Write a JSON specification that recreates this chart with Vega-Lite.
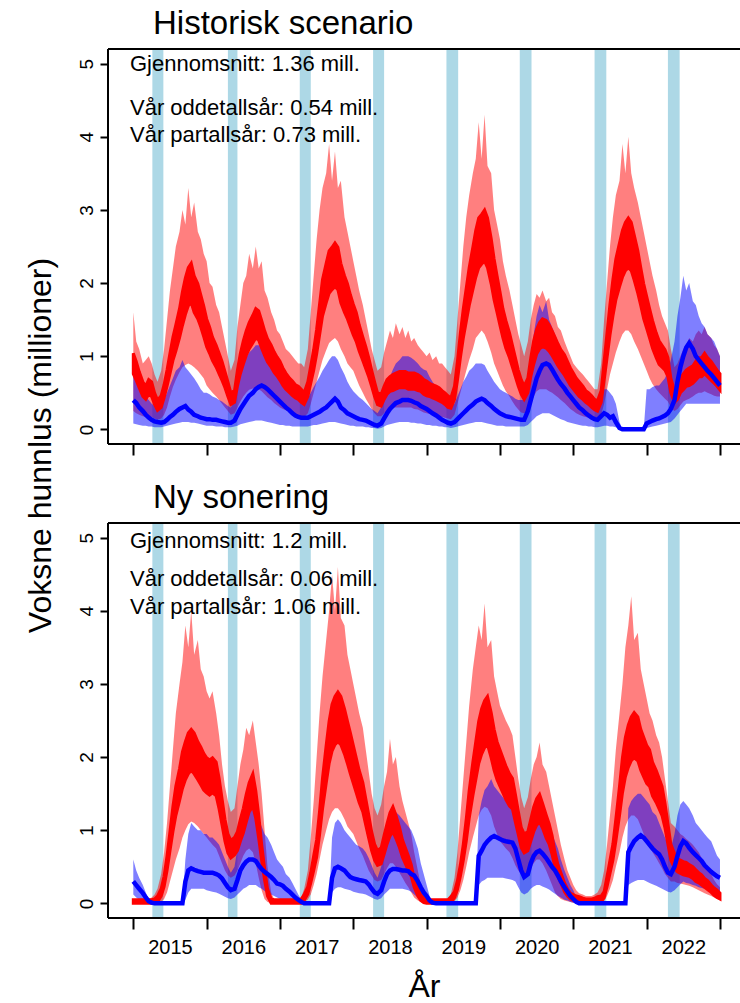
{
"$schema": "https://vega.github.io/schema/vega-lite/v6.json",
"padding": {"left": 24, "top": 8, "right": 0, "bottom": 0},
"bounds": "flush",
"spacing": 79,
"config": {"font": "Liberation Sans", "view": {"stroke": null}, "axis": {"grid": false, "domain": false, "tickColor": "black", "tickWidth": 2, "labelColor": "black", "titleColor": "black", "titleFontWeight": "normal", "labelOverlap": false, "labelFlush": false}},
"vconcat": [
{
"width": 632, "height": 395,
"title": {"text": "Historisk scenario", "anchor": "start", "frame": "group", "dx": 45, "dy": 33, "offset": 14, "fontSize": 33, "fontWeight": "normal", "baseline": "alphabetic", "color": "black"},
"data": {"values": "t,rl,r1,r2,rh,bl,bm,bh\n2015.00,0.25,0.76,1.04,1.60,0.08,0.40,0.75\n2015.04,0.22,0.67,0.93,1.20,0.07,0.36,0.70\n2015.08,0.20,0.57,0.79,1.10,0.06,0.30,0.62\n2015.13,0.18,0.45,0.65,0.90,0.05,0.25,0.55\n2015.17,0.17,0.41,0.59,0.95,0.05,0.20,0.45\n2015.21,0.18,0.48,0.68,1.00,0.04,0.16,0.40\n2015.25,0.17,0.45,0.65,0.90,0.04,0.13,0.35\n2015.29,0.15,0.34,0.50,0.75,0.03,0.11,0.32\n2015.33,0.13,0.26,0.40,0.65,0.03,0.10,0.30\n2015.38,0.15,0.30,0.46,0.80,0.03,0.09,0.32\n2015.42,0.20,0.43,0.61,1.10,0.04,0.10,0.40\n2015.46,0.30,0.59,0.81,1.50,0.05,0.13,0.50\n2015.50,0.45,0.76,1.04,1.90,0.06,0.17,0.60\n2015.54,0.58,0.94,1.26,2.20,0.07,0.20,0.70\n2015.58,0.68,1.07,1.43,2.50,0.08,0.24,0.80\n2015.63,0.78,1.25,1.65,2.70,0.09,0.28,0.85\n2015.67,0.85,1.42,1.88,3.00,0.10,0.30,0.95\n2015.71,0.88,1.57,2.07,2.80,0.10,0.32,0.85\n2015.75,0.90,1.69,2.21,3.30,0.10,0.27,0.80\n2015.79,0.88,1.73,2.27,2.90,0.09,0.24,0.75\n2015.83,0.85,1.60,2.10,3.10,0.09,0.20,0.70\n2015.88,0.80,1.51,1.99,2.70,0.08,0.18,0.62\n2015.92,0.75,1.40,1.84,2.60,0.07,0.16,0.55\n2015.96,0.70,1.27,1.69,2.40,0.06,0.15,0.50\n2016.00,0.60,1.13,1.51,2.30,0.05,0.14,0.50\n2016.04,0.55,1.04,1.40,2.00,0.05,0.14,0.48\n2016.08,0.50,0.94,1.26,1.95,0.05,0.13,0.45\n2016.13,0.45,0.85,1.15,1.70,0.04,0.13,0.43\n2016.17,0.40,0.76,1.04,1.60,0.04,0.12,0.40\n2016.21,0.35,0.67,0.93,1.40,0.04,0.11,0.38\n2016.25,0.30,0.57,0.79,1.20,0.03,0.10,0.35\n2016.29,0.25,0.45,0.65,1.00,0.03,0.09,0.32\n2016.33,0.20,0.34,0.50,0.80,0.03,0.09,0.30\n2016.38,0.22,0.37,0.53,0.95,0.04,0.12,0.40\n2016.42,0.30,0.59,0.81,1.40,0.05,0.20,0.60\n2016.46,0.38,0.76,1.04,1.70,0.07,0.28,0.75\n2016.50,0.45,0.89,1.21,2.00,0.08,0.34,0.88\n2016.54,0.50,1.01,1.35,2.10,0.09,0.40,0.98\n2016.58,0.54,1.10,1.46,2.40,0.10,0.46,1.05\n2016.63,0.56,1.18,1.56,2.20,0.11,0.50,1.10\n2016.67,0.56,1.25,1.65,2.50,0.12,0.55,1.15\n2016.71,0.55,1.22,1.62,2.20,0.12,0.58,1.15\n2016.75,0.52,1.11,1.49,2.30,0.12,0.60,1.12\n2016.79,0.48,1.01,1.35,1.90,0.11,0.58,1.05\n2016.83,0.44,0.92,1.24,1.80,0.10,0.55,1.00\n2016.88,0.40,0.85,1.15,1.60,0.09,0.50,0.92\n2016.92,0.36,0.78,1.06,1.50,0.08,0.46,0.85\n2016.96,0.33,0.73,0.99,1.35,0.07,0.42,0.78\n2017.00,0.30,0.67,0.93,1.30,0.06,0.38,0.70\n2017.04,0.28,0.60,0.84,1.20,0.06,0.34,0.65\n2017.08,0.26,0.55,0.77,1.10,0.05,0.30,0.60\n2017.13,0.24,0.50,0.70,1.05,0.05,0.26,0.55\n2017.17,0.22,0.46,0.66,1.00,0.04,0.22,0.50\n2017.21,0.20,0.43,0.61,0.95,0.04,0.19,0.46\n2017.25,0.18,0.41,0.59,0.90,0.04,0.17,0.42\n2017.29,0.17,0.37,0.55,0.90,0.04,0.16,0.40\n2017.33,0.17,0.34,0.50,0.85,0.04,0.16,0.38\n2017.38,0.22,0.45,0.65,1.10,0.04,0.16,0.42\n2017.42,0.35,0.63,0.87,1.60,0.05,0.18,0.50\n2017.46,0.50,0.81,1.09,2.10,0.06,0.20,0.58\n2017.50,0.65,1.03,1.37,2.60,0.06,0.22,0.65\n2017.54,0.80,1.29,1.71,3.00,0.07,0.24,0.72\n2017.58,0.95,1.55,2.05,3.30,0.08,0.27,0.80\n2017.63,1.08,1.73,2.27,3.50,0.09,0.30,0.88\n2017.67,1.18,1.86,2.44,3.90,0.10,0.34,0.95\n2017.71,1.22,1.91,2.49,3.40,0.10,0.38,1.00\n2017.75,1.25,1.95,2.55,3.80,0.10,0.42,1.00\n2017.79,1.20,1.91,2.49,3.30,0.09,0.38,0.95\n2017.83,1.10,1.73,2.27,3.40,0.08,0.30,0.85\n2017.88,1.00,1.60,2.10,2.90,0.07,0.26,0.75\n2017.92,0.90,1.51,1.99,2.70,0.06,0.22,0.65\n2017.96,0.85,1.40,1.84,2.50,0.05,0.20,0.58\n2018.00,0.80,1.29,1.71,2.30,0.05,0.18,0.52\n2018.04,0.70,1.20,1.60,2.10,0.04,0.16,0.48\n2018.08,0.60,1.07,1.43,1.90,0.04,0.14,0.44\n2018.13,0.50,0.94,1.26,1.70,0.04,0.13,0.40\n2018.17,0.42,0.83,1.13,1.50,0.03,0.12,0.36\n2018.21,0.35,0.72,0.98,1.30,0.03,0.10,0.32\n2018.25,0.28,0.59,0.81,1.10,0.02,0.08,0.28\n2018.29,0.22,0.45,0.65,0.95,0.02,0.06,0.25\n2018.33,0.18,0.34,0.50,0.80,0.01,0.05,0.22\n2018.38,0.18,0.32,0.48,0.85,0.02,0.08,0.30\n2018.42,0.22,0.41,0.59,1.05,0.04,0.15,0.45\n2018.46,0.25,0.48,0.68,1.20,0.06,0.22,0.60\n2018.50,0.28,0.52,0.72,1.35,0.07,0.28,0.72\n2018.54,0.30,0.53,0.75,1.25,0.08,0.32,0.82\n2018.58,0.30,0.55,0.77,1.45,0.09,0.36,0.90\n2018.63,0.30,0.57,0.79,1.30,0.10,0.38,0.95\n2018.67,0.30,0.57,0.79,1.40,0.10,0.40,1.00\n2018.71,0.30,0.57,0.79,1.25,0.10,0.40,1.00\n2018.75,0.30,0.55,0.77,1.35,0.10,0.40,1.00\n2018.79,0.30,0.55,0.77,1.20,0.09,0.39,0.98\n2018.83,0.28,0.55,0.77,1.25,0.09,0.37,0.95\n2018.88,0.27,0.53,0.75,1.15,0.08,0.35,0.90\n2018.92,0.25,0.52,0.72,1.10,0.08,0.32,0.85\n2018.96,0.23,0.48,0.68,1.05,0.07,0.30,0.82\n2019.00,0.22,0.46,0.66,1.00,0.06,0.28,0.80\n2019.04,0.21,0.45,0.63,1.05,0.06,0.25,0.72\n2019.08,0.20,0.43,0.61,0.95,0.05,0.22,0.65\n2019.13,0.19,0.41,0.59,1.00,0.05,0.19,0.58\n2019.17,0.18,0.39,0.57,0.90,0.04,0.16,0.50\n2019.21,0.17,0.37,0.53,0.90,0.04,0.13,0.45\n2019.25,0.16,0.34,0.50,0.85,0.03,0.11,0.40\n2019.29,0.15,0.30,0.46,0.80,0.03,0.09,0.35\n2019.33,0.14,0.29,0.43,0.75,0.02,0.08,0.30\n2019.38,0.20,0.41,0.59,1.00,0.03,0.10,0.35\n2019.42,0.35,0.67,0.93,1.50,0.04,0.14,0.45\n2019.46,0.50,0.98,1.32,2.00,0.05,0.18,0.55\n2019.50,0.65,1.25,1.65,2.50,0.06,0.22,0.65\n2019.54,0.80,1.47,1.93,2.90,0.07,0.26,0.72\n2019.58,0.95,1.69,2.21,3.20,0.08,0.30,0.80\n2019.63,1.10,1.91,2.49,3.50,0.09,0.34,0.85\n2019.67,1.25,2.08,2.72,3.70,0.10,0.38,0.90\n2019.71,1.30,2.21,2.89,4.20,0.10,0.40,0.90\n2019.75,1.35,2.26,2.94,3.70,0.10,0.42,0.90\n2019.79,1.30,2.30,3.00,4.30,0.09,0.40,0.88\n2019.83,1.20,2.21,2.89,3.60,0.08,0.36,0.80\n2019.88,1.05,1.99,2.61,3.50,0.07,0.32,0.72\n2019.92,0.90,1.77,2.33,3.00,0.06,0.28,0.65\n2019.96,0.80,1.60,2.10,2.80,0.05,0.25,0.60\n2020.00,0.70,1.42,1.88,2.60,0.05,0.22,0.55\n2020.04,0.60,1.25,1.65,2.30,0.05,0.20,0.52\n2020.08,0.52,1.11,1.49,2.10,0.04,0.18,0.50\n2020.13,0.45,0.98,1.32,1.90,0.04,0.17,0.47\n2020.17,0.38,0.85,1.15,1.70,0.04,0.16,0.45\n2020.21,0.32,0.72,0.98,1.50,0.04,0.15,0.42\n2020.25,0.27,0.59,0.81,1.30,0.04,0.14,0.40\n2020.29,0.23,0.48,0.68,1.15,0.04,0.13,0.40\n2020.33,0.22,0.41,0.59,1.00,0.04,0.13,0.40\n2020.38,0.25,0.50,0.70,1.20,0.06,0.25,0.70\n2020.42,0.35,0.72,0.98,1.50,0.10,0.40,1.00\n2020.46,0.45,0.89,1.21,1.70,0.14,0.55,1.30\n2020.50,0.52,1.03,1.37,1.85,0.18,0.70,1.55\n2020.54,0.55,1.10,1.46,1.80,0.20,0.80,1.70\n2020.58,0.55,1.13,1.51,1.90,0.22,0.88,1.60\n2020.63,0.55,1.11,1.49,1.75,0.22,0.90,1.75\n2020.67,0.52,1.07,1.43,1.80,0.22,0.88,1.50\n2020.71,0.50,1.01,1.35,1.60,0.20,0.82,1.40\n2020.75,0.47,0.94,1.26,1.55,0.18,0.75,1.30\n2020.79,0.44,0.87,1.17,1.40,0.16,0.68,1.20\n2020.83,0.40,0.81,1.09,1.35,0.14,0.62,1.10\n2020.88,0.36,0.74,1.02,1.20,0.12,0.56,1.00\n2020.92,0.32,0.67,0.93,1.10,0.10,0.50,0.90\n2020.96,0.28,0.60,0.84,1.00,0.09,0.45,0.80\n2021.00,0.25,0.55,0.77,0.90,0.08,0.40,0.70\n2021.04,0.22,0.50,0.70,0.85,0.07,0.35,0.65\n2021.08,0.20,0.45,0.65,0.80,0.06,0.30,0.60\n2021.13,0.18,0.41,0.59,0.75,0.05,0.26,0.55\n2021.17,0.17,0.37,0.53,0.70,0.05,0.22,0.50\n2021.21,0.16,0.34,0.50,0.65,0.04,0.19,0.45\n2021.25,0.15,0.30,0.46,0.60,0.04,0.16,0.42\n2021.29,0.14,0.27,0.41,0.55,0.03,0.14,0.40\n2021.33,0.13,0.25,0.39,0.55,0.03,0.13,0.40\n2021.38,0.20,0.37,0.53,0.90,0.04,0.18,0.45\n2021.42,0.35,0.67,0.93,1.50,0.05,0.22,0.55\n2021.46,0.55,0.98,1.32,2.00,0.05,0.20,0.55\n2021.50,0.75,1.29,1.71,2.50,0.04,0.16,0.50\n2021.54,0.90,1.55,2.05,2.90,0.04,0.18,0.45\n2021.58,1.05,1.77,2.33,3.20,0.03,0.10,0.35\n2021.63,1.20,1.95,2.55,3.40,0.01,0.02,0.10\n2021.67,1.30,2.08,2.72,3.90,0.00,0.00,0.00\n2021.71,1.35,2.17,2.83,3.50,0.00,0.00,0.00\n2021.75,1.35,2.21,2.89,4.00,0.00,0.00,0.00\n2021.79,1.30,2.17,2.83,3.50,0.00,0.00,0.00\n2021.83,1.20,2.04,2.66,3.30,0.00,0.00,0.00\n2021.88,1.10,1.86,2.44,3.10,0.00,0.00,0.00\n2021.92,1.00,1.69,2.21,2.90,0.00,0.00,0.00\n2021.96,0.90,1.51,1.99,2.70,0.00,0.00,0.00\n2022.00,0.80,1.38,1.82,2.50,0.02,0.08,0.55\n2022.04,0.70,1.25,1.65,2.30,0.03,0.10,0.55\n2022.08,0.62,1.11,1.49,2.10,0.04,0.12,0.58\n2022.13,0.55,0.98,1.32,1.90,0.05,0.14,0.60\n2022.17,0.50,0.89,1.21,1.70,0.06,0.15,0.60\n2022.21,0.46,0.85,1.15,1.55,0.07,0.17,0.65\n2022.25,0.42,0.81,1.09,1.45,0.08,0.19,0.70\n2022.29,0.38,0.72,0.98,1.35,0.09,0.22,0.80\n2022.33,0.30,0.50,0.70,1.10,0.10,0.28,0.95\n2022.38,0.25,0.37,0.53,0.85,0.15,0.40,1.20\n2022.42,0.28,0.41,0.59,0.90,0.20,0.65,1.55\n2022.46,0.33,0.50,0.70,1.00,0.25,0.85,1.80\n2022.50,0.38,0.54,0.76,1.10,0.30,1.00,2.10\n2022.54,0.40,0.59,0.81,1.15,0.35,1.12,1.90\n2022.58,0.42,0.60,0.84,1.25,0.35,1.18,2.00\n2022.63,0.45,0.63,0.87,1.20,0.35,1.10,1.75\n2022.67,0.48,0.67,0.93,1.30,0.35,1.00,1.70\n2022.71,0.50,0.72,0.98,1.35,0.35,0.95,1.55\n2022.75,0.50,0.72,0.98,1.30,0.35,0.90,1.45\n2022.79,0.52,0.76,1.04,1.40,0.35,0.85,1.40\n2022.83,0.50,0.72,0.98,1.30,0.35,0.80,1.30\n2022.88,0.48,0.67,0.93,1.25,0.35,0.75,1.25\n2022.92,0.46,0.63,0.87,1.15,0.35,0.70,1.20\n2022.96,0.45,0.59,0.81,1.10,0.35,0.65,1.10\n2023.00,0.45,0.54,0.76,1.00,0.35,0.60,1.00", "format": {"type": "csv", "parse": {"t": "number", "rl": "number", "r1": "number", "r2": "number", "rh": "number", "bl": "number", "bm": "number", "bh": "number"}}},
"encoding": {"x": {"field": "t", "type": "quantitative", "scale": {"domain": [2014.655, 2023.273], "nice": false, "zero": false},
  "axis": {"values": [2015, 2015.5, 2016, 2016.5, 2017, 2017.5, 2018, 2018.5, 2019, 2019.5, 2020, 2020.5, 2021, 2021.5, 2022, 2022.5, 2023], "labels": false, "title": null, "domain": false, "tickSize": 11, "tickOpacity": {"condition": {"test": "datum.value % 1 == 0.5", "value": 0}, "value": 1}}}},
"layer": [
  {"data": {"values": [{"t": 2015.26, "t2": 2015.41}, {"t": 2016.29, "t2": 2016.42}, {"t": 2017.27, "t2": 2017.42}, {"t": 2018.27, "t2": 2018.42}, {"t": 2019.27, "t2": 2019.43}, {"t": 2020.27, "t2": 2020.43}, {"t": 2021.29, "t2": 2021.45}, {"t": 2022.29, "t2": 2022.45}]},
   "mark": {"type": "rect", "color": "#ADD8E6"}, "encoding": {"x2": {"field": "t2"}}},
  {"mark": {"type": "area", "color": "#FF0000", "fillOpacity": 0.5}, "encoding": {"y": {"field": "rl", "type": "quantitative", "scale": {"domain": [-0.2, 5.2], "nice": false, "zero": false},
    "axis": {"values": [0, 1, 2, 3, 4, 5], "format": "d", "domain": false, "title": "Voksne hunnlus (millioner)", "titleFontSize": 32, "titleAngle": 270, "titleX": -58, "titleY": 396, "titleAlign": "center", "titleBaseline": "alphabetic", "labelAngle": 270, "labelAlign": "center", "labelBaseline": "bottom", "labelFontSize": 19, "labelPadding": 4, "tickSize": 8}}, "y2": {"field": "rh"}}},
  {"mark": {"type": "area", "color": "#0000FF", "fillOpacity": 0.5}, "encoding": {"y": {"field": "bl", "type": "quantitative"}, "y2": {"field": "bh"}}},
  {"mark": {"type": "area", "color": "#FF0000", "stroke": "#FF0000", "strokeWidth": 3}, "encoding": {"y": {"field": "r1", "type": "quantitative"}, "y2": {"field": "r2"}}},
  {"mark": {"type": "line", "color": "#0000FF", "strokeWidth": 4.5}, "encoding": {"y": {"field": "bm", "type": "quantitative"}}},
  {"data": {"values": [{"t": 2014.655, "t2": 2023.273, "yv": 5.2}, {"t": 2014.655, "t2": 2023.273, "yv": -0.2}]}, "mark": {"type": "rule", "color": "black", "strokeWidth": 2}, "encoding": {"x2": {"field": "t2"}, "y": {"field": "yv", "type": "quantitative"}}},
  {"data": {"values": [{"t": 2014.655, "ya": -0.2, "yb": 5.2}]}, "mark": {"type": "rule", "color": "black", "strokeWidth": 2}, "encoding": {"y": {"field": "ya", "type": "quantitative"}, "y2": {"field": "yb"}}},
  {"data": {"values": [{"t": 2014.955, "v": 5.0, "lab": "Gjennomsnitt: 1.36 mill."}, {"t": 2014.955, "v": 4.4, "lab": "Vår oddetallsår: 0.54 mill."}, {"t": 2014.955, "v": 4.03, "lab": "Vår partallsår: 0.73 mill."}]},
   "mark": {"type": "text", "align": "left", "baseline": "middle", "fontSize": 22, "color": "black"}, "encoding": {"y": {"field": "v", "type": "quantitative"}, "text": {"field": "lab"}}}
]
},
{
"width": 632, "height": 395,
"title": {"text": "Ny sonering", "anchor": "start", "frame": "group", "dx": 45, "dy": 33, "offset": 14, "fontSize": 33, "fontWeight": "normal", "baseline": "alphabetic", "color": "black"},
"data": {"values": "t,rl,r1,r2,rh,bl,bm,bh\n2015.00,0.00,0.00,0.05,0.05,0.12,0.30,0.60\n2015.04,0.00,0.00,0.05,0.05,0.08,0.25,0.45\n2015.08,0.00,0.00,0.05,0.05,0.05,0.20,0.35\n2015.13,0.00,0.00,0.05,0.05,0.03,0.14,0.25\n2015.17,0.00,0.00,0.05,0.05,0.01,0.08,0.15\n2015.21,0.00,0.00,0.05,0.06,0.00,0.03,0.06\n2015.25,0.00,0.00,0.05,0.08,0.00,0.01,0.02\n2015.29,0.00,0.00,0.06,0.12,0.00,0.00,0.00\n2015.33,0.00,0.02,0.10,0.20,0.00,0.00,0.00\n2015.38,0.02,0.10,0.20,0.40,0.00,0.00,0.00\n2015.42,0.06,0.23,0.37,0.70,0.00,0.00,0.00\n2015.46,0.15,0.45,0.65,1.10,0.00,0.00,0.00\n2015.50,0.30,0.72,0.98,1.60,0.00,0.00,0.00\n2015.54,0.45,0.98,1.32,2.10,0.00,0.00,0.00\n2015.58,0.60,1.20,1.60,2.60,0.00,0.00,0.00\n2015.63,0.75,1.40,1.84,3.00,0.00,0.00,0.00\n2015.67,0.90,1.57,2.07,3.30,0.00,0.00,0.00\n2015.71,1.00,1.69,2.21,3.80,0.05,0.30,0.60\n2015.75,1.08,1.77,2.33,3.50,0.15,0.45,0.95\n2015.79,1.12,1.82,2.38,4.00,0.20,0.48,1.10\n2015.83,1.10,1.77,2.33,3.40,0.20,0.46,1.05\n2015.88,1.05,1.69,2.21,3.60,0.20,0.44,1.00\n2015.92,1.00,1.62,2.14,3.20,0.20,0.43,1.00\n2015.96,0.95,1.55,2.05,3.10,0.20,0.42,0.95\n2016.00,0.90,1.51,1.99,2.90,0.18,0.42,0.95\n2016.04,0.85,1.48,1.96,2.80,0.17,0.42,0.90\n2016.08,0.80,1.51,1.99,2.90,0.16,0.42,0.90\n2016.13,0.75,1.47,1.93,2.60,0.15,0.40,0.85\n2016.17,0.65,1.29,1.71,2.30,0.13,0.38,0.80\n2016.21,0.55,1.07,1.43,1.90,0.11,0.34,0.70\n2016.25,0.45,0.85,1.15,1.60,0.09,0.28,0.60\n2016.29,0.38,0.69,0.95,1.40,0.07,0.22,0.50\n2016.33,0.35,0.62,0.86,1.25,0.06,0.18,0.42\n2016.38,0.38,0.66,0.90,1.30,0.08,0.20,0.50\n2016.42,0.45,0.72,0.98,1.60,0.12,0.32,0.75\n2016.46,0.55,0.85,1.15,1.90,0.16,0.45,1.00\n2016.50,0.65,0.96,1.30,2.10,0.20,0.52,1.15\n2016.54,0.72,1.11,1.49,2.40,0.22,0.57,1.25\n2016.58,0.75,1.25,1.65,2.30,0.25,0.60,1.35\n2016.63,0.70,1.33,1.77,2.50,0.25,0.60,1.30\n2016.67,0.55,1.16,1.54,2.20,0.25,0.58,1.25\n2016.71,0.35,0.89,1.21,1.90,0.22,0.52,1.15\n2016.75,0.18,0.59,0.81,1.50,0.20,0.47,1.05\n2016.79,0.06,0.32,0.48,1.00,0.17,0.43,0.95\n2016.83,0.02,0.10,0.20,0.50,0.15,0.40,0.90\n2016.88,0.00,0.00,0.06,0.15,0.12,0.36,0.80\n2016.92,0.00,0.00,0.05,0.06,0.10,0.32,0.70\n2016.96,0.00,0.00,0.05,0.05,0.08,0.27,0.60\n2017.00,0.00,0.00,0.05,0.05,0.06,0.26,0.55\n2017.04,0.00,0.00,0.05,0.05,0.05,0.24,0.50\n2017.08,0.00,0.00,0.05,0.05,0.04,0.20,0.40\n2017.13,0.00,0.00,0.05,0.05,0.03,0.16,0.35\n2017.17,0.00,0.00,0.05,0.05,0.02,0.12,0.28\n2017.21,0.00,0.00,0.05,0.05,0.01,0.08,0.20\n2017.25,0.00,0.00,0.05,0.05,0.01,0.05,0.12\n2017.29,0.00,0.00,0.06,0.08,0.00,0.02,0.05\n2017.33,0.02,0.04,0.12,0.20,0.00,0.00,0.00\n2017.38,0.05,0.13,0.23,0.45,0.00,0.00,0.00\n2017.42,0.12,0.28,0.42,0.90,0.00,0.00,0.00\n2017.46,0.25,0.45,0.65,1.40,0.00,0.00,0.00\n2017.50,0.40,0.63,0.87,2.00,0.00,0.00,0.00\n2017.54,0.60,0.94,1.26,2.60,0.00,0.00,0.00\n2017.58,0.80,1.29,1.71,3.10,0.00,0.00,0.00\n2017.63,1.00,1.64,2.16,3.60,0.00,0.00,0.00\n2017.67,1.15,1.91,2.49,4.00,0.00,0.00,0.00\n2017.71,1.25,2.08,2.72,4.50,0.15,0.35,0.90\n2017.75,1.30,2.17,2.83,4.00,0.20,0.48,1.10\n2017.79,1.30,2.21,2.89,4.60,0.22,0.50,1.15\n2017.83,1.25,2.17,2.83,3.90,0.22,0.48,1.10\n2017.88,1.15,2.04,2.66,3.80,0.20,0.45,1.00\n2017.92,1.05,1.91,2.49,3.40,0.19,0.40,0.95\n2017.96,1.00,1.77,2.33,3.20,0.18,0.36,0.90\n2018.00,0.95,1.64,2.16,3.00,0.16,0.34,0.85\n2018.04,0.85,1.51,1.99,2.80,0.15,0.33,0.80\n2018.08,0.75,1.38,1.82,2.60,0.14,0.32,0.78\n2018.13,0.65,1.25,1.65,2.40,0.13,0.31,0.75\n2018.17,0.55,1.07,1.43,2.10,0.12,0.30,0.70\n2018.21,0.45,0.89,1.21,1.80,0.10,0.26,0.62\n2018.25,0.38,0.72,0.98,1.50,0.08,0.20,0.52\n2018.29,0.32,0.59,0.81,1.30,0.06,0.15,0.42\n2018.33,0.30,0.52,0.72,1.20,0.05,0.13,0.35\n2018.38,0.32,0.54,0.76,1.35,0.07,0.18,0.50\n2018.42,0.40,0.67,0.93,1.60,0.12,0.30,0.75\n2018.46,0.48,0.81,1.09,1.80,0.16,0.40,0.95\n2018.50,0.55,0.92,1.24,2.25,0.20,0.45,1.10\n2018.54,0.55,0.98,1.32,1.90,0.20,0.47,1.20\n2018.58,0.50,0.89,1.21,2.00,0.20,0.47,1.25\n2018.63,0.42,0.76,1.04,1.60,0.20,0.46,1.20\n2018.67,0.35,0.63,0.87,1.40,0.20,0.45,1.15\n2018.71,0.28,0.54,0.76,1.25,0.19,0.45,1.10\n2018.75,0.22,0.45,0.65,1.10,0.18,0.44,1.05\n2018.79,0.15,0.37,0.53,0.95,0.16,0.40,1.00\n2018.83,0.08,0.22,0.34,0.70,0.12,0.38,0.90\n2018.88,0.04,0.10,0.20,0.45,0.08,0.30,0.75\n2018.92,0.02,0.04,0.12,0.25,0.05,0.22,0.55\n2018.96,0.00,0.01,0.07,0.12,0.03,0.15,0.40\n2019.00,0.00,0.00,0.05,0.06,0.01,0.10,0.25\n2019.04,0.00,0.00,0.05,0.05,0.00,0.04,0.10\n2019.08,0.00,0.00,0.05,0.05,0.00,0.01,0.03\n2019.13,0.00,0.00,0.05,0.05,0.00,0.00,0.00\n2019.17,0.00,0.00,0.05,0.05,0.00,0.00,0.00\n2019.21,0.00,0.00,0.05,0.05,0.00,0.00,0.00\n2019.25,0.00,0.00,0.05,0.05,0.00,0.00,0.00\n2019.29,0.00,0.00,0.05,0.06,0.00,0.00,0.00\n2019.33,0.00,0.01,0.09,0.12,0.00,0.00,0.00\n2019.38,0.03,0.08,0.16,0.35,0.00,0.00,0.00\n2019.42,0.08,0.19,0.31,0.70,0.00,0.00,0.00\n2019.46,0.18,0.37,0.53,1.20,0.00,0.00,0.00\n2019.50,0.32,0.59,0.81,1.70,0.00,0.00,0.00\n2019.54,0.50,0.85,1.15,2.20,0.00,0.00,0.00\n2019.58,0.70,1.16,1.54,2.70,0.00,0.00,0.00\n2019.63,0.90,1.47,1.93,3.20,0.00,0.00,0.00\n2019.67,1.05,1.69,2.21,3.50,0.00,0.00,0.00\n2019.71,1.20,1.91,2.49,3.80,0.25,0.65,1.20\n2019.75,1.28,2.04,2.66,3.60,0.30,0.72,1.40\n2019.79,1.32,2.13,2.77,4.10,0.32,0.80,1.55\n2019.83,1.30,2.17,2.83,3.50,0.35,0.85,1.60\n2019.88,1.20,1.99,2.61,3.60,0.35,0.90,1.70\n2019.92,1.05,1.82,2.38,3.10,0.35,0.92,1.60\n2019.96,0.95,1.69,2.21,2.90,0.35,0.90,1.55\n2020.00,0.85,1.60,2.10,2.70,0.35,0.88,1.50\n2020.04,0.80,1.51,1.99,2.60,0.35,0.86,1.45\n2020.08,0.75,1.42,1.88,2.50,0.34,0.85,1.40\n2020.13,0.70,1.33,1.77,2.40,0.33,0.84,1.35\n2020.17,0.62,1.29,1.71,2.30,0.32,0.83,1.30\n2020.21,0.52,1.11,1.49,2.00,0.30,0.75,1.20\n2020.25,0.45,0.94,1.26,1.70,0.22,0.60,1.00\n2020.29,0.40,0.76,1.04,1.45,0.15,0.45,0.80\n2020.33,0.38,0.69,0.95,1.30,0.12,0.36,0.70\n2020.38,0.40,0.72,0.98,1.45,0.15,0.40,0.85\n2020.42,0.48,0.85,1.15,1.70,0.20,0.55,1.10\n2020.46,0.55,0.98,1.32,1.90,0.23,0.65,1.25\n2020.50,0.60,1.07,1.43,2.00,0.25,0.70,1.35\n2020.54,0.60,1.11,1.49,2.20,0.25,0.72,1.30\n2020.58,0.55,1.03,1.37,1.90,0.23,0.68,1.25\n2020.63,0.45,0.89,1.21,1.80,0.21,0.62,1.15\n2020.67,0.35,0.81,1.09,1.60,0.19,0.56,1.05\n2020.71,0.25,0.67,0.93,1.40,0.16,0.50,0.95\n2020.75,0.15,0.50,0.70,1.20,0.13,0.45,0.85\n2020.79,0.10,0.37,0.53,1.00,0.10,0.38,0.75\n2020.83,0.06,0.28,0.42,0.80,0.08,0.30,0.60\n2020.88,0.04,0.16,0.28,0.60,0.05,0.22,0.45\n2020.92,0.03,0.10,0.20,0.45,0.04,0.16,0.35\n2020.96,0.02,0.06,0.14,0.35,0.02,0.10,0.25\n2021.00,0.01,0.04,0.12,0.25,0.01,0.06,0.18\n2021.04,0.00,0.02,0.10,0.18,0.00,0.02,0.08\n2021.08,0.00,0.01,0.09,0.14,0.00,0.00,0.02\n2021.13,0.00,0.01,0.07,0.12,0.00,0.00,0.00\n2021.17,0.00,0.00,0.06,0.10,0.00,0.00,0.00\n2021.21,0.00,0.00,0.06,0.10,0.00,0.00,0.00\n2021.25,0.00,0.00,0.06,0.10,0.00,0.00,0.00\n2021.29,0.00,0.01,0.07,0.12,0.00,0.00,0.00\n2021.33,0.00,0.01,0.09,0.15,0.00,0.00,0.00\n2021.38,0.01,0.02,0.10,0.25,0.00,0.00,0.00\n2021.42,0.03,0.08,0.16,0.45,0.00,0.00,0.00\n2021.46,0.10,0.23,0.37,0.80,0.00,0.00,0.00\n2021.50,0.20,0.41,0.59,1.20,0.00,0.00,0.00\n2021.54,0.32,0.59,0.81,1.60,0.00,0.00,0.00\n2021.58,0.50,0.85,1.15,2.10,0.00,0.00,0.00\n2021.63,0.70,1.20,1.60,2.60,0.00,0.00,0.00\n2021.67,0.90,1.51,1.99,3.00,0.00,0.00,0.00\n2021.71,1.05,1.73,2.27,3.50,0.00,0.00,0.00\n2021.75,1.15,1.86,2.44,3.80,0.25,0.70,1.30\n2021.79,1.20,1.95,2.55,4.20,0.28,0.78,1.40\n2021.83,1.20,1.99,2.61,3.60,0.30,0.85,1.45\n2021.88,1.15,1.95,2.55,3.70,0.32,0.90,1.50\n2021.92,1.05,1.82,2.38,3.20,0.32,0.93,1.50\n2021.96,0.95,1.73,2.27,3.00,0.32,0.90,1.45\n2022.00,0.85,1.64,2.16,2.80,0.30,0.85,1.40\n2022.04,0.78,1.60,2.10,2.60,0.28,0.80,1.35\n2022.08,0.70,1.47,1.93,2.50,0.26,0.75,1.25\n2022.13,0.62,1.38,1.82,2.30,0.24,0.70,1.20\n2022.17,0.55,1.29,1.71,2.20,0.22,0.67,1.10\n2022.21,0.48,1.20,1.60,2.00,0.20,0.60,1.00\n2022.25,0.40,1.03,1.37,1.70,0.18,0.50,0.90\n2022.29,0.35,0.81,1.09,1.40,0.16,0.42,0.80\n2022.33,0.30,0.59,0.81,1.10,0.15,0.40,0.75\n2022.38,0.30,0.48,0.68,1.05,0.18,0.50,0.95\n2022.42,0.28,0.43,0.61,1.00,0.22,0.65,1.20\n2022.46,0.27,0.41,0.59,0.95,0.26,0.78,1.35\n2022.50,0.26,0.39,0.57,0.92,0.30,0.85,1.40\n2022.54,0.25,0.38,0.56,0.88,0.28,0.82,1.35\n2022.58,0.24,0.37,0.53,0.85,0.27,0.76,1.30\n2022.63,0.22,0.34,0.50,0.80,0.25,0.70,1.20\n2022.67,0.20,0.30,0.46,0.75,0.24,0.66,1.10\n2022.71,0.18,0.28,0.42,0.70,0.22,0.62,1.05\n2022.75,0.16,0.25,0.39,0.62,0.21,0.58,1.00\n2022.79,0.14,0.22,0.34,0.55,0.20,0.52,0.95\n2022.83,0.12,0.19,0.31,0.48,0.19,0.48,0.90\n2022.88,0.10,0.15,0.25,0.40,0.18,0.43,0.85\n2022.92,0.08,0.11,0.21,0.32,0.17,0.40,0.75\n2022.96,0.06,0.08,0.18,0.26,0.16,0.37,0.65\n2023.00,0.05,0.06,0.14,0.22,0.15,0.35,0.60", "format": {"type": "csv", "parse": {"t": "number", "rl": "number", "r1": "number", "r2": "number", "rh": "number", "bl": "number", "bm": "number", "bh": "number"}}},
"encoding": {"x": {"field": "t", "type": "quantitative", "scale": {"domain": [2014.655, 2023.273], "nice": false, "zero": false},
  "axis": {"values": [2015, 2015.5, 2016, 2016.5, 2017, 2017.5, 2018, 2018.5, 2019, 2019.5, 2020, 2020.5, 2021, 2021.5, 2022, 2022.5, 2023], "domain": false, "labelExpr": "datum.value % 1 == 0.5 ? format(floor(datum.value), 'd') : ''", "labelFontSize": 20, "labelPadding": 8, "tickSize": 11, "tickOpacity": {"condition": {"test": "datum.value % 1 == 0.5", "value": 0}, "value": 1}, "title": "År", "titleFontSize": 32, "titleY": 78, "titleBaseline": "alphabetic"}}},
"layer": [
  {"data": {"values": [{"t": 2015.26, "t2": 2015.41}, {"t": 2016.29, "t2": 2016.42}, {"t": 2017.27, "t2": 2017.42}, {"t": 2018.27, "t2": 2018.42}, {"t": 2019.27, "t2": 2019.43}, {"t": 2020.27, "t2": 2020.43}, {"t": 2021.29, "t2": 2021.45}, {"t": 2022.29, "t2": 2022.45}]},
   "mark": {"type": "rect", "color": "#ADD8E6"}, "encoding": {"x2": {"field": "t2"}}},
  {"mark": {"type": "area", "color": "#FF0000", "fillOpacity": 0.5}, "encoding": {"y": {"field": "rl", "type": "quantitative", "scale": {"domain": [-0.2, 5.2], "nice": false, "zero": false},
    "axis": {"values": [0, 1, 2, 3, 4, 5], "format": "d", "domain": false, "title": null, "labelAngle": 270, "labelAlign": "center", "labelBaseline": "bottom", "labelFontSize": 19, "labelPadding": 4, "tickSize": 8}}, "y2": {"field": "rh"}}},
  {"mark": {"type": "area", "color": "#0000FF", "fillOpacity": 0.5}, "encoding": {"y": {"field": "bl", "type": "quantitative"}, "y2": {"field": "bh"}}},
  {"mark": {"type": "area", "color": "#FF0000", "stroke": "#FF0000", "strokeWidth": 3}, "encoding": {"y": {"field": "r1", "type": "quantitative"}, "y2": {"field": "r2"}}},
  {"mark": {"type": "line", "color": "#0000FF", "strokeWidth": 4.5}, "encoding": {"y": {"field": "bm", "type": "quantitative"}}},
  {"data": {"values": [{"t": 2014.655, "t2": 2023.273, "yv": 5.2}, {"t": 2014.655, "t2": 2023.273, "yv": -0.2}]}, "mark": {"type": "rule", "color": "black", "strokeWidth": 2}, "encoding": {"x2": {"field": "t2"}, "y": {"field": "yv", "type": "quantitative"}}},
  {"data": {"values": [{"t": 2014.655, "ya": -0.2, "yb": 5.2}]}, "mark": {"type": "rule", "color": "black", "strokeWidth": 2}, "encoding": {"y": {"field": "ya", "type": "quantitative"}, "y2": {"field": "yb"}}},
  {"data": {"values": [{"t": 2014.955, "v": 4.95, "lab": "Gjennomsnitt: 1.2 mill."}, {"t": 2014.955, "v": 4.43, "lab": "Vår oddetallsår: 0.06 mill."}, {"t": 2014.955, "v": 4.05, "lab": "Vår partallsår: 1.06 mill."}]},
   "mark": {"type": "text", "align": "left", "baseline": "middle", "fontSize": 22, "color": "black"}, "encoding": {"y": {"field": "v", "type": "quantitative"}, "text": {"field": "lab"}}}
]
}
]
}
